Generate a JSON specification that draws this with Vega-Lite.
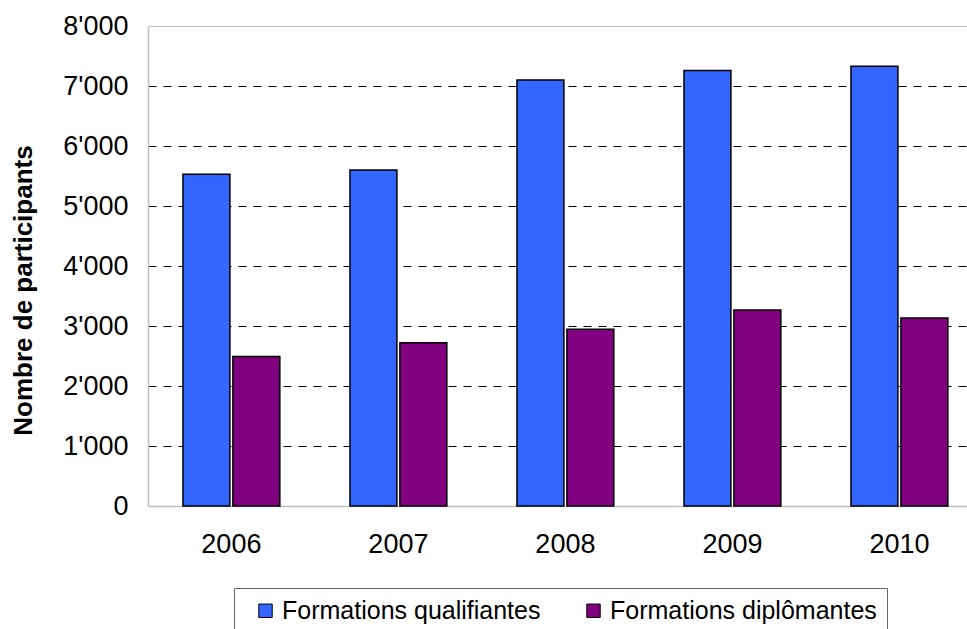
{
  "$schema": "https://vega.github.io/schema/vega-lite/v6.json",
  "width": 819,
  "height": 480,
  "autosize": {"type": "none"},
  "padding": {"left": 148, "top": 26, "right": 0, "bottom": 123},
  "background": "white",
  "config": {
    "view": {"stroke": null},
    "font": "Liberation Sans"
  },
  "data": {
    "values": [
      {"year": "2006", "series": "Formations qualifiantes", "value": 5530},
      {"year": "2006", "series": "Formations diplômantes", "value": 2490},
      {"year": "2007", "series": "Formations qualifiantes", "value": 5600},
      {"year": "2007", "series": "Formations diplômantes", "value": 2720},
      {"year": "2008", "series": "Formations qualifiantes", "value": 7100},
      {"year": "2008", "series": "Formations diplômantes", "value": 2945},
      {"year": "2009", "series": "Formations qualifiantes", "value": 7260},
      {"year": "2009", "series": "Formations diplômantes", "value": 3265},
      {"year": "2010", "series": "Formations qualifiantes", "value": 7330},
      {"year": "2010", "series": "Formations diplômantes", "value": 3135}
    ]
  },
  "mark": {"type": "bar", "stroke": "black", "strokeWidth": 1.5},
  "encoding": {
    "x": {
      "field": "year",
      "type": "nominal",
      "scale": {"paddingInner": 0.42, "paddingOuter": 0.162, "align": 0.646},
      "axis": {
        "title": null,
        "labelAngle": 0,
        "labelFontSize": 27,
        "labelColor": "black",
        "labelPadding": 25,
        "ticks": false,
        "domainColor": "#bfbfbf",
        "domainWidth": 1.5
      }
    },
    "xOffset": {
      "field": "series",
      "type": "nominal",
      "scale": {"domain": ["Formations qualifiantes", "Formations diplômantes"], "paddingInner": 0.06, "paddingOuter": 0}
    },
    "y": {
      "field": "value",
      "type": "quantitative",
      "scale": {"domain": [0, 8000], "nice": false},
      "axis": {
        "title": "Nombre de participants",
        "titleFontSize": 26,
        "titleFontWeight": "bold",
        "titleColor": "black",
        "titleX": -125,
        "titleY": 264,
        "titleBaseline": "middle",
        "values": [0, 1000, 2000, 3000, 4000, 5000, 6000, 7000, 8000],
        "labelExpr": "replace(format(datum.value, ','), ',', \"'\")",
        "labelFontSize": 27,
        "labelColor": "black",
        "labelPadding": 20,
        "ticks": false,
        "domainColor": "#bfbfbf",
        "domainWidth": 1.5,
        "grid": true,
        "gridColor": {"condition": {"test": "datum.value === 8000 || datum.value === 0", "value": "#bfbfbf"}, "value": "black"},
        "gridDash": {"condition": {"test": "datum.value === 8000 || datum.value === 0", "value": []}, "value": [8, 7]},
        "gridWidth": 1
      }
    },
    "color": {
      "field": "series",
      "type": "nominal",
      "scale": {"domain": ["Formations qualifiantes", "Formations diplômantes"], "range": ["#3366ff", "#800080"]},
      "legend": {
        "title": null,
        "orient": "none",
        "direction": "horizontal",
        "legendX": 86,
        "legendY": 562,
        "padding": 10,
        "symbolOffset": 9,
        "strokeColor": "#666666",
        "fillColor": "white",
        "symbolType": "square",
        "symbolSize": 180,
        "symbolStrokeColor": "black",
        "symbolStrokeWidth": 1,
        "symbolOpacity": 1,
        "labelFontSize": 25,
        "labelColor": "black",
        "labelOffset": 4,
        "labelLimit": 400,
        "columnPadding": 31
      }
    }
  }
}
